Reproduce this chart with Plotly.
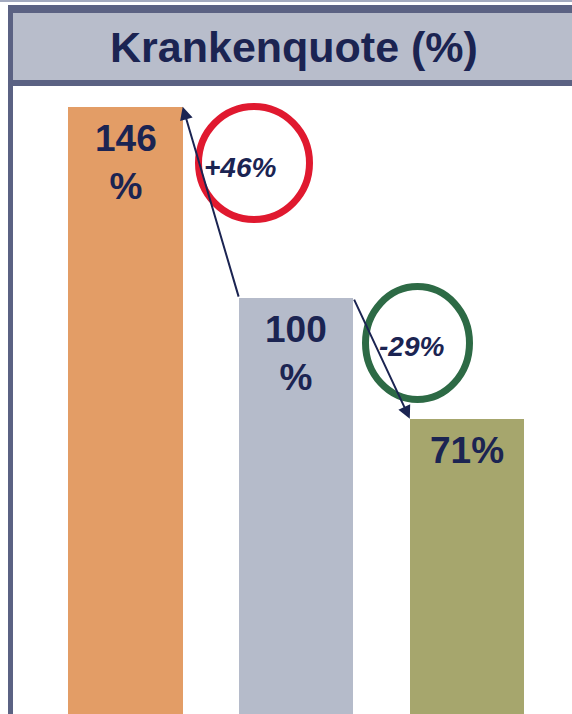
import plotly.graph_objects as go

# ---- data ----
categories = [0, 1, 2]
values = [146, 100, 71]
value_labels = ["146<br>%", "100<br>%", "71%"]
bar_colors = ["#E39D66", "#B5BBCA", "#A6A66D"]
changes = ["+46%", "-29%"]
title_text = "Krankenquote (%)"

W, H = 572, 714
ML, MT = 13, 86
PW, PH = W - ML, H - MT

def PX(x):
    return (x - ML) / PW

def PY(y):
    return (H - y) / PH

NAVY = "#1B2452"
FONT = "Liberation Sans, Arial, sans-serif"
BAR_W = 0.67

fig = go.Figure()
fig.add_trace(go.Bar(
    x=categories, y=values, width=BAR_W,
    marker=dict(color=bar_colors, line=dict(width=0)),
    hoverinfo="skip", showlegend=False,
))

annotations = []
for c, v, lab in zip(categories, values, value_labels):
    annotations.append(dict(
        x=c, y=v, xref="x", yref="y", text=f"<b>{lab}</b>", showarrow=False,
        xanchor="center", yanchor="top", yshift=-9,
        font=dict(family=FONT, size=37, color=NAVY),
    ))

# arrows between bar tops
annotations.append(dict(
    x=categories[0] + BAR_W / 2, y=values[0], ax=categories[1] - BAR_W / 2, ay=values[1],
    xref="x", yref="y", axref="x", ayref="y", text="", showarrow=True,
    arrowhead=2, arrowsize=1.3, arrowwidth=2, arrowcolor=NAVY,
))
annotations.append(dict(
    x=categories[2] - BAR_W / 2, y=values[2], ax=categories[1] + BAR_W / 2, ay=values[1],
    xref="x", yref="y", axref="x", ayref="y", text="", showarrow=True,
    arrowhead=2, arrowsize=1.3, arrowwidth=2, arrowcolor=NAVY,
))

# change labels
annotations.append(dict(
    x=PX(240), y=PY(167), xref="paper", yref="paper", text=f"<b><i>{changes[0]}</i></b>",
    showarrow=False, xanchor="center", yanchor="middle",
    font=dict(family=FONT, size=28, color=NAVY),
))
annotations.append(dict(
    x=PX(411), y=PY(346), xref="paper", yref="paper", text=f"<b><i>{changes[1]}</i></b>",
    showarrow=False, xanchor="center", yanchor="middle",
    font=dict(family=FONT, size=28, color=NAVY),
))

# title
annotations.append(dict(
    x=PX(294), y=PY(47), xref="paper", yref="paper", text=f"<b>{title_text}</b>",
    showarrow=False, xanchor="center", yanchor="middle",
    font=dict(family=FONT, size=43, color=NAVY),
))

shapes = [
    # thin top line
    dict(type="line", xref="paper", yref="paper", x0=PX(0), x1=PX(W), y0=PY(1), y1=PY(1),
         line=dict(color="#A3AABF", width=2)),
    # title box fill
    dict(type="rect", xref="paper", yref="paper", x0=PX(8), x1=PX(W + 5), y0=PY(13), y1=PY(80),
         fillcolor="#B8BDCB", line=dict(width=0), layer="below"),
    # top band
    dict(type="rect", xref="paper", yref="paper", x0=PX(8), x1=PX(W + 5), y0=PY(5), y1=PY(13),
         fillcolor="#5B6283", line=dict(width=0)),
    # bottom band
    dict(type="rect", xref="paper", yref="paper", x0=PX(8), x1=PX(W + 5), y0=PY(80), y1=PY(86),
         fillcolor="#5B6283", line=dict(width=0)),
    # left band
    dict(type="rect", xref="paper", yref="paper", x0=PX(8), x1=PX(13), y0=PY(5), y1=PY(H + 5),
         fillcolor="#5B6283", line=dict(width=0)),
    # red circle
    dict(type="circle", xref="paper", yref="paper", x0=PX(198.5), x1=PX(309.5), y0=PY(106.5), y1=PY(219.5),
         line=dict(color="#E0192F", width=7), fillcolor="rgba(0,0,0,0)"),
    # green circle
    dict(type="circle", xref="paper", yref="paper", x0=PX(365.5), x1=PX(469.5), y0=PY(286.5), y1=PY(399.5),
         line=dict(color="#2D6A45", width=7), fillcolor="rgba(0,0,0,0)"),
]

fig.update_layout(
    width=W, height=H,
    margin=dict(l=ML, r=0, t=MT, b=0, pad=0),
    paper_bgcolor="white", plot_bgcolor="white",
    xaxis=dict(range=[-(125.5 - ML) / 170.75, (W - 125.5) / 170.75], visible=False, fixedrange=True),
    yaxis=dict(range=[0, 151], visible=False, fixedrange=True),
    annotations=annotations, shapes=shapes,
    bargap=0, showlegend=False,
)

fig.write_html(
    "out.html",
    config={"displayModeBar": False},
    post_script="document.body.style.margin='0';document.body.style.overflow='hidden';",
)
